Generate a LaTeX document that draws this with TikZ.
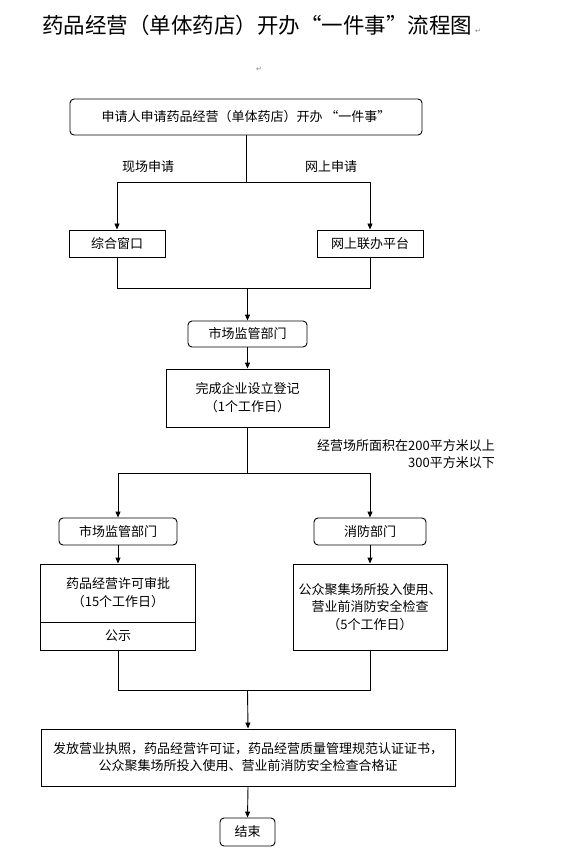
\documentclass[tikz,border=0pt]{standalone}
\usepackage{fontspec}
\setmainfont{Noto Sans CJK SC}
\newfontfamily\symfont{DejaVu Sans}
\usetikzlibrary{arrows.meta}
\begin{document}
\begin{tikzpicture}[x=1pt,y=-1pt,
  base/.style={draw, line width=0.9pt, inner sep=0pt, align=center, font=\fontsize{13}{18}\selectfont},
  rbox/.style={base, rounded corners=4pt},
  sbox/.style={base},
  lbl/.style={font=\fontsize{13}{17}\selectfont, inner sep=0pt},
  conn/.style={line width=0.9pt},
  arr/.style={conn, -{Triangle[length=6pt,width=5pt]}},
  retmark/.style={font=\symfont\fontsize{7}{7}\selectfont, text=gray, inner sep=0pt}
]
\useasboundingbox (0,0) rectangle (575,866);

\node[font=\fontsize{21.5}{24}\selectfont, inner sep=0pt] (title) at (257,25) {药品经营（单体药店）开办“一件事”流程图};
\node[retmark] (rm1) at (478,31) {↵};
\node[retmark] (rm2) at (259,69) {↵};

\node[rbox, minimum width=352pt, minimum height=36pt] (start) at (246,117) {申请人申请药品经营（单体药店）开办 “一件事”};
\node[sbox, minimum width=96pt, minimum height=27pt] (win) at (117,243.5) {综合窗口};
\node[sbox, minimum width=106pt, minimum height=27pt] (online) at (370,243.5) {网上联办平台};
\node[lbl] (lon) at (148,167) {现场申请};
\node[lbl] (lnet) at (331,167) {网上申请};

\node[rbox, minimum width=119pt, minimum height=26pt] (smr1) at (247.5,334) {市场监管部门};
\node[sbox, minimum width=163pt, minimum height=58pt] (reg) at (247.5,398) {完成企业设立登记\\（1个工作日）};
\node[lbl, align=right, anchor=east] (area) at (495,454.5) {经营场所面积在200平方米以上\\300平方米以下};

\node[rbox, minimum width=118pt, minimum height=27pt] (smr2) at (118,531.5) {市场监管部门};
\node[rbox, minimum width=112pt, minimum height=27pt] (fire) at (370,531.5) {消防部门};
\node[sbox, minimum width=155pt, minimum height=58pt] (appr) at (118,593) {药品经营许可审批\\（15个工作日）};
\node[sbox, minimum width=155pt, minimum height=28pt] (pub) at (118,636) {公示};
\node[sbox, minimum width=154pt, minimum height=86pt, font=\fontsize{13}{17.5}\selectfont] (firechk) at (370,607) {公众聚集场所投入使用、\\营业前消防安全检查\\（5个工作日）};

\node[sbox, minimum width=414pt, minimum height=57pt, font=\fontsize{13}{17}\selectfont] (issue) at (248,757.5) {发放营业执照，药品经营许可证，药品经营质量管理规范认证证书，\\公众聚集场所投入使用、营业前消防安全检查合格证};
\node[rbox, minimum width=55pt, minimum height=28pt] (end) at (247.5,832) {结束};

\coordinate (j1) at (246,182);
\coordinate (j2) at (247.5,288);
\coordinate (j3) at (247.5,473);
\coordinate (j4) at (247.5,690);

\draw[conn] (start.south) -- (j1);
\draw[arr] (j1) -| (win.north);
\draw[arr] (j1) -| (online.north);
\draw[conn] (win.south) |- (j2);
\draw[conn] (online.south) |- (j2);
\draw[arr] (j2) -- (smr1.north);
\draw[arr] (smr1.south) -- (reg.north);
\draw[conn] (reg.south) -- (j3);
\draw[arr] (j3) -| (smr2.north);
\draw[arr] (j3) -| (fire.north);
\draw[arr] (smr2.south) -- (appr.north);
\draw[arr] (fire.south) -- (firechk.north);
\draw[conn] (pub.south) |- (j4);
\draw[conn] (firechk.south) |- (j4);
\draw[arr] (j4) -- (issue.north);
\draw[arr] (issue.south) -- (end.north);
\end{tikzpicture}
\end{document}
